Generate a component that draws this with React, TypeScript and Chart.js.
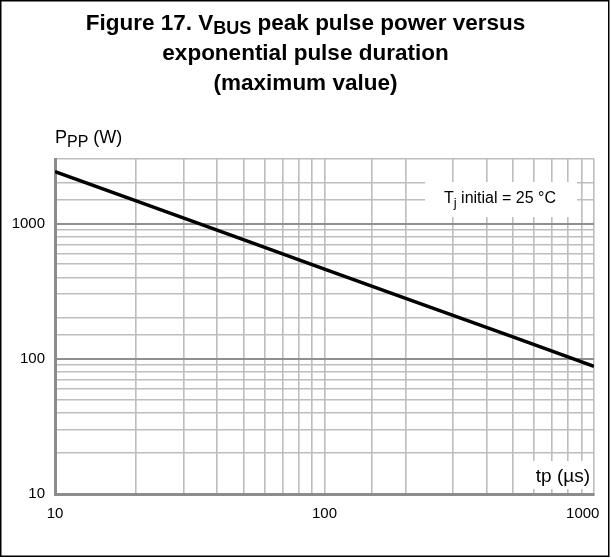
import React, { useEffect, useRef } from "react";
import { Chart, registerables } from "chart.js";

Chart.register(...registerables);

// ---- data ----
const pulseDurations = [10, 20, 50, 100, 200, 500, 1000]; // tp (µs)
const peakPulsePower = [2420, 1470, 760, 460, 280, 145, 88]; // PPP (W)
const xTickLabels = [10, 100, 1000];
const yTickLabels = [10, 100, 1000];
const xRange = [10, 1000];
const yRange = [10, 3000];

const FONT = "'Liberation Sans', Arial, Helvetica, sans-serif";

type Part = { text: string; sub?: boolean };

function drawRich(
  ctx: CanvasRenderingContext2D,
  parts: Part[],
  x: number,
  baseline: number,
  font: string,
  subFont: string,
  subDy: number,
  align: "center" | "left"
) {
  let total = 0;
  const widths = parts.map((p) => {
    ctx.font = p.sub ? subFont : font;
    const w = ctx.measureText(p.text).width;
    total += w;
    return w;
  });
  let cx = align === "center" ? x - total / 2 : x;
  parts.forEach((p, i) => {
    ctx.font = p.sub ? subFont : font;
    ctx.fillText(p.text, cx, baseline + (p.sub ? subDy : 0));
    cx += widths[i];
  });
  return total;
}

const decorPlugin = {
  id: "decor",
  afterDraw(chart: any) {
    const ctx: CanvasRenderingContext2D = chart.ctx;
    const W = chart.width;
    const H = chart.height;
    ctx.save();
    ctx.fillStyle = "#000";
    ctx.textAlign = "left";
    ctx.textBaseline = "alphabetic";

    // Title
    const tFont = `bold 22.5px ${FONT}`;
    const tSub = `bold 18px ${FONT}`;
    drawRich(
      ctx,
      [
        { text: "Figure 17. V" },
        { text: "BUS", sub: true },
        { text: " peak pulse power versus" },
      ],
      W / 2,
      30,
      tFont,
      tSub,
      4,
      "center"
    );
    drawRich(ctx, [{ text: "exponential pulse duration" }], W / 2, 60, tFont, tSub, 0, "center");
    drawRich(ctx, [{ text: "(maximum value)" }], W / 2, 90, tFont, tSub, 0, "center");

    // Y axis title
    drawRich(
      ctx,
      [{ text: "P" }, { text: "PP", sub: true }, { text: " (W)" }],
      55,
      143,
      `18px ${FONT}`,
      `16px ${FONT}`,
      4,
      "left"
    );

    const area = chart.chartArea;

    // Tj annotation
    ctx.fillStyle = "#fff";
    ctx.fillRect(425, 182, 152, 35);
    ctx.fillStyle = "#000";
    drawRich(
      ctx,
      [{ text: "T" }, { text: "j", sub: true }, { text: " initial = 25 °C" }],
      444,
      203,
      `16px ${FONT}`,
      `13px ${FONT}`,
      4,
      "left"
    );

    // X axis title
    ctx.fillStyle = "#fff";
    ctx.fillRect(531, 461, 60, 28);
    ctx.fillStyle = "#000";
    ctx.font = `19px ${FONT}`;
    ctx.textAlign = "right";
    ctx.fillText("tp (µs)", area.right - 4, 482);

    // outer frame
    ctx.strokeStyle = "#000";
    ctx.lineWidth = 1.5;
    ctx.strokeRect(0.75, 0.75, W - 3, H - 2.5);
    ctx.restore();
  },
};

const isDecade = (v: number) => Math.abs(Math.log10(v) - Math.round(Math.log10(v))) < 1e-9;

export default function App() {
  const ref = useRef<HTMLCanvasElement | null>(null);

  useEffect(() => {
    document.body.style.margin = "0";
    const canvas = ref.current;
    if (!canvas) return;
    const chart = new Chart(canvas, {
      type: "line",
      data: {
        datasets: [
          {
            data: pulseDurations.map((x, i) => ({ x, y: peakPulsePower[i] })),
            borderColor: "#000",
            borderWidth: 3.5,
            pointRadius: 0,
            fill: false,
            tension: 0,
          },
        ],
      },
      options: {
        animation: false,
        responsive: false,
        devicePixelRatio: 1,
        layout: { padding: { top: 159, right: 17, left: 0, bottom: 0 } },
        plugins: {
          legend: { display: false },
          tooltip: { enabled: false },
          title: { display: false },
        },
        scales: {
          x: {
            type: "logarithmic",
            min: xRange[0],
            max: xRange[1],
            afterFit: (s: any) => {
              s.height = 64;
              s.paddingLeft = 0;
              s.paddingRight = 0;
            },
            grid: {
              color: "#bdbdbd",
              lineWidth: 1.6,
              drawTicks: false,
            },
            border: { display: true, color: "#8c8c8c", width: 3 },
            ticks: {
              autoSkip: false,
              maxRotation: 0,
              padding: 11,
              color: "#000",
              font: { family: FONT, size: 15 },
              callback: (v: any) => {
                const n = Number(v);
                if (!xTickLabels.includes(n)) return "";
                // last label sits inside the frame, shifted left as in the reference
                return n === xRange[1] ? String(n) + "\u2002\u2002\u2002" : String(n);
              },
            },
          },
          y: {
            type: "logarithmic",
            min: yRange[0],
            max: yRange[1],
            afterFit: (s: any) => {
              s.width = 55;
              s.paddingTop = 0;
              s.paddingBottom = 0;
            },
            grid: {
              color: (c: any) => (c.tick && isDecade(c.tick.value) ? "#8f8f8f" : "#bdbdbd"),
              lineWidth: (c: any) => (c.tick && isDecade(c.tick.value) ? 2 : 1.6),
              drawTicks: false,
            },
            border: { display: true, color: "#8c8c8c", width: 3 },
            ticks: {
              autoSkip: false,
              padding: 10,
              color: "#000",
              font: { family: FONT, size: 15 },
              callback: (v: any) => (yTickLabels.includes(Number(v)) ? String(v) : ""),
            },
          },
        },
      },
      plugins: [decorPlugin],
    } as any);
    return () => chart.destroy();
  }, []);

  return (
    <div style={{ position: "absolute", left: 0, top: 0, width: 611, height: 558, background: "#fff" }}>
      <canvas ref={ref} width={611} height={558} />
    </div>
  );
}
